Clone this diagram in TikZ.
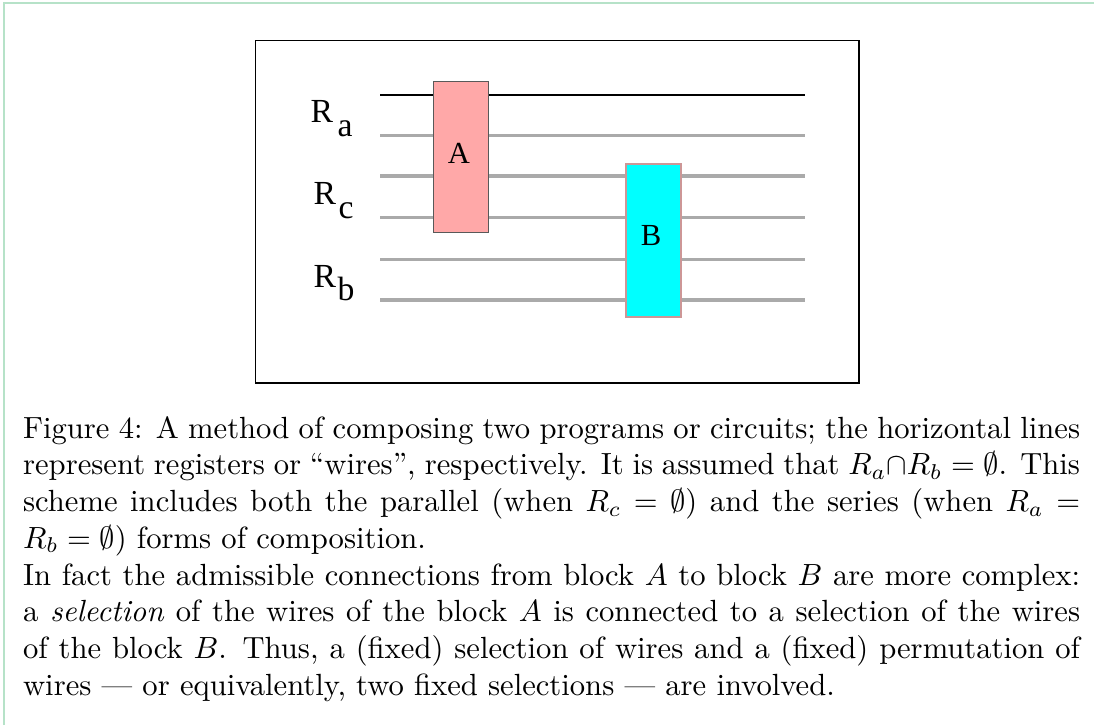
\documentclass[tikz,border=0pt]{standalone}
\usepackage{amsmath}
\usepackage{xcolor}
\usepackage{fontspec}
\usepackage{tikz}
\usetikzlibrary{positioning}
\newfontfamily\figfont{Liberation Serif}
\definecolor{framegreen}{RGB}{182,226,200}
\definecolor{wiregray}{RGB}{170,170,170}
\definecolor{blockpink}{RGB}{255,168,168}
\definecolor{blockcyan}{RGB}{0,255,255}
\definecolor{edgepink}{RGB}{205,150,150}

\begin{document}
\begin{tikzpicture}[x=0.3264pt,y=-0.3264pt,
  wire/.style={line width=1pt,wiregray},
  block/.style={draw,rectangle,inner sep=0pt,minimum width=18pt},
  blocklabel/.style={inner sep=0pt,font=\figfont\fontsize{10}{12}\selectfont},
  reglabel/.style={anchor=base west,inner sep=0pt,font=\figfont\fontsize{11}{13}\selectfont}]
  \useasboundingbox (0,0) rectangle (1094,725);
  % outer frame, only top and left edges show
  \draw[framegreen,line width=0.7pt] (4,725) -- (4,3) -- (1094,3);
  \draw[line width=0.45pt] (255.5,40.7) rectangle (859,383);
  % wires
  \coordinate (w1l) at (380,95);
  \coordinate (w1r) at (805,95);
  \draw[line width=0.45pt] (w1l) -- (w1r);
  \foreach \i/\y in {2/135.3,3/176,4/217.3,5/259.3,6/300} {
    \coordinate (w\i l) at (380,\y);
    \coordinate (w\i r) at (805,\y);
    \draw[wire] (w\i l) -- (w\i r);
  }
  % the two blocks
  \node[block,fill=blockpink,draw=black!65,minimum height=49.2pt] (A) at (461,157) {};
  \node[blocklabel] (Alab) at (459,153.7) {A};
  \node[block,fill=blockcyan,draw=edgepink,line width=0.6pt,minimum height=49.7pt] (B) at (653.7,240.5) {};
  \node[blocklabel] (Blab) at (651,235) {B};
  % register names
  \node[reglabel] (Ra) at (310,122.7) {R};
  \node[reglabel] (Ra sub) at (337,136.7) {a};
  \node[reglabel] (Rc) at (313,204) {R};
  \node[reglabel] (Rc sub) at (338,218) {c};
  \node[reglabel] (Rb) at (313,287) {R};
  \node[reglabel] (Rb sub) at (337,300.7) {b};
  % caption
  \node[anchor=base west,inner sep=0pt,text width=345pt,align=justify] (cap) at (22.5,438)
    {Figure 4: A method of composing two programs or circuits; the horizontal lines\linebreak
     represent registers or ``wires'', respectively. It is assumed that $R_a{\cap}R_b = \emptyset$. This\linebreak
     scheme includes both the parallel (when $R_c = \emptyset$) and the series (when $R_a =$\linebreak
     $R_b = \emptyset$) forms of composition.\hfil\break
     In fact the admissible connections from block $A$ to block $B$ are more complex:\linebreak
     a \emph{selection} of the wires of the block $A$ is connected to a selection of the wires\linebreak
     of the block $B$. Thus, a (fixed) selection of wires and a (fixed) permutation of\linebreak
     wires --- or equivalently, two fixed selections --- are involved.};
\end{tikzpicture}
\end{document}
